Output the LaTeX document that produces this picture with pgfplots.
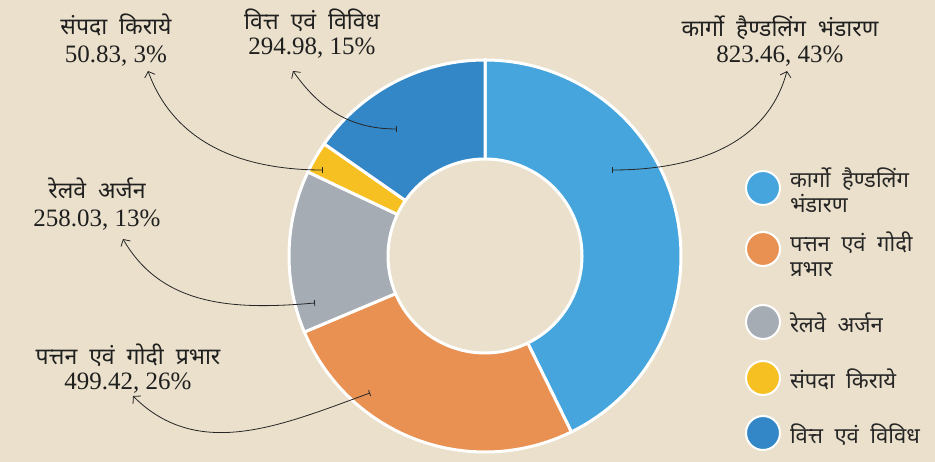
\documentclass[border=0pt]{standalone}
\usepackage{pgfplots}
\pgfplotsset{compat=1.18}
\usepackage{fontspec}
\usetikzlibrary{arrows.meta}
\newfontfamily\dev[Script=Devanagari, WordSpace=2]{Noto Sans}
\newfontfamily\num{Liberation Serif}
\definecolor{bg}{HTML}{EAE0CB}
\definecolor{cA}{HTML}{45A5DC}
\definecolor{cB}{HTML}{E89152}
\definecolor{cC}{HTML}{A6ACB4}
\definecolor{cD}{HTML}{F6C022}
\definecolor{cE}{HTML}{3487C7}
% data
\def\vA{823.46}% cargo handling storage
\def\vB{499.42}% port and dock charges
\def\vC{258.03}% railway earnings
\def\vD{50.83}%  estate rentals
\def\vE{294.98}% finance and misc
\pgfmathsetmacro\tot{\vA+\vB+\vC+\vD+\vE}
\pgfmathsetmacro\aA{90}
\pgfmathsetmacro\aB{\aA-360*(\vA/\tot)}
\pgfmathsetmacro\aC{\aB-360*(\vB/\tot)}
\pgfmathsetmacro\aD{\aC-360*(\vC/\tot)}
\pgfmathsetmacro\aE{\aD-360*(\vD/\tot)}
\pgfmathsetmacro\aF{\aE-360*(\vE/\tot)}
\def\cx{485}\def\cy{206}\def\R{196}\def\r{97}
% legend text: smashed, aligned on its first baseline
\newcommand\lgbox[1]{\smash{\begin{tabular}[t]{@{}l@{}}#1\end{tabular}}}
% legend image: #1 colour, #2 half row height, #3 circle centre above text baseline
\newcommand\lgimg[3]{%
  \path[draw=none, fill=none, line width=0pt] (0pt,#3pt-#2pt) rectangle (0pt,#3pt+#2pt);
  \draw[fill=#1, draw=white, line width=2pt] (0pt,#3pt) circle (17pt);}
\begin{document}
\begin{tikzpicture}
\begin{axis}[
  width=935pt, height=462pt, scale only axis,
  xmin=0, xmax=935, ymin=0, ymax=462,
  hide axis, clip=false,
  legend style={at={(axis cs:745,292)}, anchor=north west, draw=none, fill=none,
    inner sep=0pt, outer sep=0pt,
    font=\dev\fontsize{22}{24}\selectfont, row sep=6pt, column sep=9pt,
    cells={anchor=base west},
    nodes={inner sep=0pt, outer sep=0pt, text=black!85}},
]
\fill[bg] (axis cs:0,0) rectangle (axis cs:935,462);
\addplot[fill=cA, draw=white, line width=3pt, domain=\aB:\aA, samples=120, variable=\t,
  legend image code/.code={\lgimg{cA}{18}{0}}]
  ({\cx+\R*cos(\t)},{\cy+\R*sin(\t)}) -- (axis cs:\cx,\cy) -- cycle;
\addlegendentry{\lgbox{कार्गो हैण्डलिंग\\[-1pt]भंडारण}}
\addplot[fill=cB, draw=white, line width=3pt, domain=\aC:\aB, samples=80, variable=\t,
  legend image code/.code={\lgimg{cB}{37}{3}}]
  ({\cx+\R*cos(\t)},{\cy+\R*sin(\t)}) -- (axis cs:\cx,\cy) -- cycle;
\addlegendentry{\lgbox{पत्तन एवं गोदी\\[1pt]प्रभार}}
\addplot[fill=cC, draw=white, line width=3pt, domain=\aD:\aC, samples=50, variable=\t,
  legend image code/.code={\lgimg{cC}{30}{11}}]
  ({\cx+\R*cos(\t)},{\cy+\R*sin(\t)}) -- (axis cs:\cx,\cy) -- cycle;
\addlegendentry{\lgbox{रेलवे अर्जन}}
\addplot[fill=cD, draw=white, line width=3pt, domain=\aE:\aD, samples=20, variable=\t,
  legend image code/.code={\lgimg{cD}{20}{11}}]
  ({\cx+\R*cos(\t)},{\cy+\R*sin(\t)}) -- (axis cs:\cx,\cy) -- cycle;
\addlegendentry{\lgbox{संपदा किराये}}
\addplot[fill=cE, draw=white, line width=3pt, domain=\aF:\aE, samples=50, variable=\t,
  legend image code/.code={\lgimg{cE}{29}{11}}]
  ({\cx+\R*cos(\t)},{\cy+\R*sin(\t)}) -- (axis cs:\cx,\cy) -- cycle;
\addlegendentry{\lgbox{वित्त एवं विविध}}
% hole
\addplot[fill=bg, draw=white, line width=3pt, domain=0:360, samples=150, variable=\t, forget plot]
  ({\cx+\r*cos(\t)},{\cy+\r*sin(\t)}) -- cycle;
% annotations
\tikzset{arr/.style={draw=black!85, line width=0.8pt, {Bar[width=6pt]}-{Straight Barb[length=5pt,width=11pt]}}}
\draw[arr] (axis cs:612,292) to[out=0,in=-105] (axis cs:787,391);
\draw[arr] (axis cs:397,333) to[out=180,in=-55] (axis cs:293,391);
\draw[arr] (axis cs:323,292) to[out=180,in=-70] (axis cs:148,391);
\draw[arr] (axis cs:315,159) to[out=185,in=-60] (axis cs:123,223);
\draw[arr] (axis cs:370,69) to[out=200,in=-45] (axis cs:133,66);
% labels
\tikzset{lt/.style={anchor=base, inner sep=0pt, font=\dev\fontsize{23}{26}\selectfont, text=black!88},
         ln/.style={anchor=base, inner sep=0pt, font=\num\fontsize{25}{28}\selectfont, text=black!88}}
\node[lt] at (axis cs:116,427) {संपदा किराये};
\node[ln] at (axis cs:116,399) {50.83, 3\%};
\node[lt] at (axis cs:312,432) {वित्त एवं विविध};
\node[ln] at (axis cs:312,407) {294.98, 15\%};
\node[lt] at (axis cs:780,425) {कार्गो हैण्डलिंग भंडारण};
\node[ln] at (axis cs:780,399) {823.46, 43\%};
\node[lt] at (axis cs:97,263) {रेलवे अर्जन};
\node[ln] at (axis cs:97,235) {258.03, 13\%};
\node[lt] at (axis cs:128,97) {पत्तन एवं गोदी प्रभार};
\node[ln] at (axis cs:128,72) {499.42, 26\%};
\end{axis}
\pgfresetboundingbox
\path[use as bounding box] (current axis.south west) rectangle (current axis.north east);
\end{tikzpicture}
\end{document}
